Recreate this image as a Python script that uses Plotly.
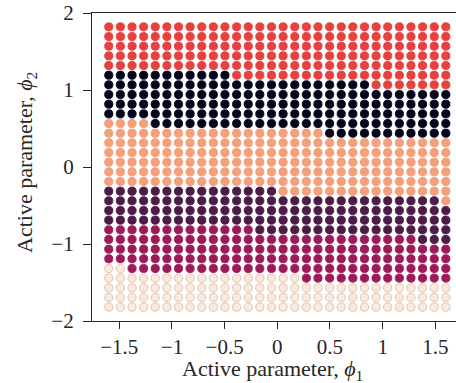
import plotly.graph_objects as go

# Grid of the active parameters (columns = phi1, rows = phi2 from top to bottom)
phi1 = [-1.600, -1.490, -1.379, -1.269, -1.159, -1.048, -0.938, -0.828, -0.717, -0.607,
        -0.497, -0.386, -0.276, -0.166, -0.055, 0.055, 0.166, 0.276, 0.386, 0.497,
        0.607, 0.717, 0.828, 0.938, 1.048, 1.159, 1.269, 1.379, 1.490, 1.600]
phi2 = [1.820, 1.694, 1.569, 1.443, 1.318, 1.192, 1.067, 0.941, 0.816, 0.690,
        0.565, 0.439, 0.314, 0.188, 0.063, -0.063, -0.188, -0.314, -0.439, -0.565,
        -0.690, -0.816, -0.941, -1.067, -1.192, -1.318, -1.443, -1.569, -1.694, -1.820]

# Class of each grid point (R red, K black, O orange, P purple, M magenta, C cream)
rows = [
    "RRRRRRRRRRRRRRRRRRRRRRRRRRRRRR",
    "RRRRRRRRRRRRRRRRRRRRRRRRRRRRRR",
    "RRRRRRRRRRRRRRRRRRRRRRRRRRRRRR",
    "RRRRRRRRRRRRRRRRRRRRRRRRRRRRRR",
    "RRRRRRRRRRRRRRRRRRRRRRRRRRRRRR",
    "KKKKKKKKKKKRRRRRRRRRRRRRRRRRRR",
    "KKKKKKKKKKKKKKKKKKKKKKKRRRRRRR",
    "KKKKKKKKKKKKKKKKKKKKKKKKKKKKKK",
    "KKKKKKKKKKKKKKKKKKKKKKKKKKKKKK",
    "KKKKKKKKKKKKKKKKKKKKKKKKKKKKKK",
    "OOOOKKKKKKKKKKKKKKKKKKKKKKKKKK",
    "OOOOOOOOOOOOOOOOOOOKKKKKKKKKKK",
    "OOOOOOOOOOOOOOOOOOOOOOOOOOOOOO",
    "OOOOOOOOOOOOOOOOOOOOOOOOOOOOOO",
    "OOOOOOOOOOOOOOOOOOOOOOOOOOOOOO",
    "OOOOOOOOOOOOOOOOOOOOOOOOOOOOOO",
    "OOOOOOOOOOOOOOOOOOOOOOOOOOOOOO",
    "PPPPPPPPPPPPPPPOOOOOOOOOOOOOOO",
    "PPPPPPPPPPPPPPPPPPPPPPPPPPPPPO",
    "PPPPPPPPPPPPPPPPPPPPPPPPPPPPPP",
    "PPPPPPPPPPPPPPPPPPPPPPPPPPPPPP",
    "MMMMMMMMMMMMMPPPPPPPPPPPPPPPPP",
    "MMMMMMMMMMMMMMMMMMMMMMMMMMMPPP",
    "MMMMMMMMMMMMMMMMMMMMMMMMMMMMMM",
    "MMMMMMMMMMMMMMMMMMMMMMMMMMMMMM",
    "CCMMMMMMMMMMMMMMMMMMMMMMMMMMMM",
    "CCCCCCCCCCCCCCCCCMMMMMMMMMMMMM",
    "CCCCCCCCCCCCCCCCCCCCCCCCCCCCCC",
    "CCCCCCCCCCCCCCCCCCCCCCCCCCCCCC",
    "CCCCCCCCCCCCCCCCCCCCCCCCCCCCCC",
]

class_codes = ["K", "P", "M", "R", "O", "C"]
class_colors = {"K": "#03051A", "P": "#4B1C48", "M": "#9D1A5A",
                "R": "#E6403F", "O": "#F5A07B", "C": "#FBEADC"}
class_edges = {"K": "#03051A", "P": "#4B1C48", "M": "#9D1A5A",
               "R": "#E6403F", "O": "#F09A74", "C": "#D9C1AF"}

x_ticks = [-1.5, -1, -0.5, 0, 0.5, 1, 1.5]
x_tick_text = ["\u22121.5", "\u22121", "\u22120.5", "0", "0.5", "1", "1.5"]
y_ticks = [-2, -1, 0, 1, 2]
y_tick_text = ["\u22122", "\u22121", "0", "1", "2"]

x_title = "Active parameter, <i>\u03d5</i><sub>1</sub>"
y_title = "Active parameter, <i>\u03d5</i><sub>2</sub>"

fig = go.Figure()
for code in class_codes:
    xs, ys = [], []
    for r, row in enumerate(rows):
        for c, ch in enumerate(row):
            if ch == code:
                xs.append(phi1[c])
                ys.append(phi2[r])
    fig.add_trace(go.Scatter(
        x=xs, y=ys, mode="markers", showlegend=False, hoverinfo="skip",
        marker=dict(size=8.2, color=class_colors[code],
                    line=dict(color=class_edges[code], width=0.9)),
    ))

ink = "#262626"
W, H = 456, 383
ML, MR, MT, MB = 92, 0, 13, 62
fig.update_layout(
    width=W, height=H,
    margin=dict(l=ML, r=MR, t=MT, b=MB),
    plot_bgcolor="white", paper_bgcolor="white",
    font=dict(family="Liberation Serif", size=21, color=ink),
)
fig.update_xaxes(
    range=[-1.7593, 1.6966], showgrid=False, zeroline=False, automargin=False,
    showline=True, mirror=True, linecolor=ink, linewidth=1.25,
    ticks="outside", ticklen=7, tickwidth=1.25, tickcolor=ink,
    tickvals=x_ticks, ticktext=x_tick_text, ticklabelstandoff=0,
    ticklabeloverflow="allow",
)
fig.update_yaxes(
    range=[-2, 2], showgrid=False, zeroline=False, automargin=False,
    showline=True, linecolor=ink, linewidth=1.25,
    ticks="outside", ticklen=8, tickwidth=1.25, tickcolor=ink,
    tickvals=y_ticks, ticktext=y_tick_text, ticklabelstandoff=5,
    ticklabeloverflow="allow",
)

pw = W - ML - MR
ph = H - MT - MB
# x-axis title centred near (272, 370) in pixels
fig.add_annotation(
    text=x_title, showarrow=False, xref="paper", yref="paper",
    x=(272 - ML) / pw, y=-(370 - (H - MB)) / ph,
    xanchor="center", yanchor="middle", borderpad=0,
    font=dict(size=22, color=ink),
)
# y-axis title, rotated, centred near (26, 163) in pixels
fig.add_annotation(
    text=y_title, showarrow=False, xref="paper", yref="paper",
    x=-(ML - 26) / pw, y=(H - MB - 163) / ph,
    xanchor="center", yanchor="middle", textangle=-90, borderpad=0,
    font=dict(size=22, color=ink),
)

fig.write_html("out.html", config={"displayModeBar": False},
               post_script="document.body.style.margin='0px';")
